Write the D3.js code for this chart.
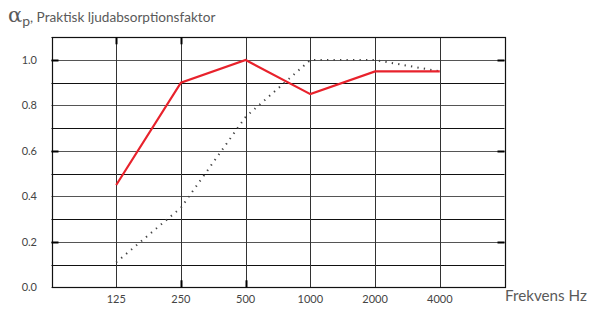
<!DOCTYPE html>
<html>
<head>
<meta charset="utf-8">
<script src="https://cdn.jsdelivr.net/npm/d3@7"></script>
<style>
  body { margin: 0; background: #fff; }
  text { font-family: "Lato", "DejaVu Sans", sans-serif; fill: #444; }
  .soft { fill: #5a5a5a; }
</style>
</head>
<body>
<div id="chart"></div>
<script>
"use strict";

var freqs = ["125", "250", "500", "1000", "2000", "4000"];
var redValues = [0.45, 0.9, 1.0, 0.85, 0.95, 0.95];
var dottedValues = [0.11, 0.35, 0.75, 1.0, 1.0, 0.95];
var yTicks = [0, 0.2, 0.4, 0.6, 0.8, 1.0];

var width = 590, height = 309;
var plotLeft = 51.5, plotRight = 504.5, plotTop = 37.3, plotBottom = 287.3;

var svg = d3.select("#chart").append("svg")
    .attr("width", width)
    .attr("height", height);

// one empty band before 125 so the box is 7 columns wide
var xCols = [""].concat(freqs);
var x = d3.scalePoint()
    .domain(xCols.concat(["end"]))
    .range([plotLeft, plotRight]);
var xPos = function (f) { return x(f); };
var y = d3.scaleLinear().domain([0, 1.1]).range([plotBottom, plotTop]);
var px = function (v) { return Math.round(v) + 0.5; };

// horizontal grid lines every 0.1
var hGrid = d3.range(0, 12).map(function (i) { return i / 10; });
svg.append("g").selectAll("line")
    .data(hGrid)
    .enter().append("line")
    .attr("x1", plotLeft).attr("x2", plotRight)
    .attr("y1", function (d) { return px(y(d)); })
    .attr("y2", function (d) { return px(y(d)); })
    .attr("stroke", function (d, i) { return i % 2 ? "#111" : "#555"; })
    .attr("stroke-width", 1);

// vertical grid lines
svg.append("g").selectAll("line")
    .data(freqs)
    .enter().append("line")
    .attr("x1", function (d) { return px(xPos(d)); })
    .attr("x2", function (d) { return px(xPos(d)); })
    .attr("y1", plotTop).attr("y2", plotBottom)
    .attr("stroke", "#333")
    .attr("stroke-width", 1);

// box
svg.append("rect")
    .attr("x", px(plotLeft))
    .attr("y", px(plotTop))
    .attr("width", Math.round(plotRight) - Math.round(plotLeft))
    .attr("height", Math.round(plotBottom) - Math.round(plotTop))
    .attr("fill", "none")
    .attr("stroke", "#111")
    .attr("stroke-width", 1.2);

// small thick ticks
[0.2, 0.6, 1.0].forEach(function (v) {
  svg.append("line")
     .attr("x1", plotLeft).attr("x2", plotLeft + 7)
     .attr("y1", px(y(v))).attr("y2", px(y(v)))
     .attr("stroke", "#000").attr("stroke-width", 2);
  svg.append("line")
     .attr("x1", plotRight - 7).attr("x2", plotRight)
     .attr("y1", px(y(v))).attr("y2", px(y(v)))
     .attr("stroke", "#000").attr("stroke-width", 2);
});
["125", "250"].forEach(function (f) {
  svg.append("line")
     .attr("x1", px(xPos(f))).attr("x2", px(xPos(f)))
     .attr("y1", plotTop).attr("y2", plotTop + 7)
     .attr("stroke", "#000").attr("stroke-width", 2);
});
["250", "500"].forEach(function (f) {
  svg.append("line")
     .attr("x1", px(xPos(f))).attr("x2", px(xPos(f)))
     .attr("y1", plotBottom - 7).attr("y2", plotBottom)
     .attr("stroke", "#000").attr("stroke-width", 2);
});

// y labels
svg.append("g").selectAll("text")
    .data(yTicks)
    .enter().append("text")
    .attr("x", 37)
    .attr("y", function (d) { return y(d) + 4; })
    .attr("text-anchor", "end")
    .attr("font-size", 11)
    .text(function (d) { return d.toFixed(1); });

// x labels
svg.append("g").selectAll("text")
    .data(freqs)
    .enter().append("text")
    .attr("x", function (d) { return xPos(d); })
    .attr("y", 303)
    .attr("text-anchor", "middle")
    .attr("font-size", 11)
    .text(function (d) { return d; });

svg.append("text")
    .attr("class", "soft")
    .attr("x", 505).attr("y", 301)
    .attr("font-size", 15.2)
    .text("Frekvens Hz");

// title
var title = svg.append("text").attr("class", "soft").attr("x", 8).attr("y", 22);
title.append("tspan").attr("font-family", "DejaVu Serif")
     .attr("font-size", 21).text("α");
title.append("tspan").attr("font-size", 14).attr("dy", 4).text("p");
title.append("tspan").attr("font-size", 13.6).attr("dy", -4).text(", Praktisk ljudabsorptionsfaktor");

var line = d3.line()
    .x(function (d, i) { return xPos(freqs[i]); })
    .y(function (d) { return y(d); });

svg.append("path")
    .datum(dottedValues)
    .attr("d", line)
    .attr("fill", "none")
    .attr("stroke", "#444")
    .attr("stroke-width", 2)
    .attr("stroke-dasharray", "1.3,5.2");

svg.append("path")
    .datum(redValues)
    .attr("d", line)
    .attr("fill", "none")
    .attr("stroke", "#e8222c")
    .attr("stroke-width", 2.2);
</script>
</body>
</html>
